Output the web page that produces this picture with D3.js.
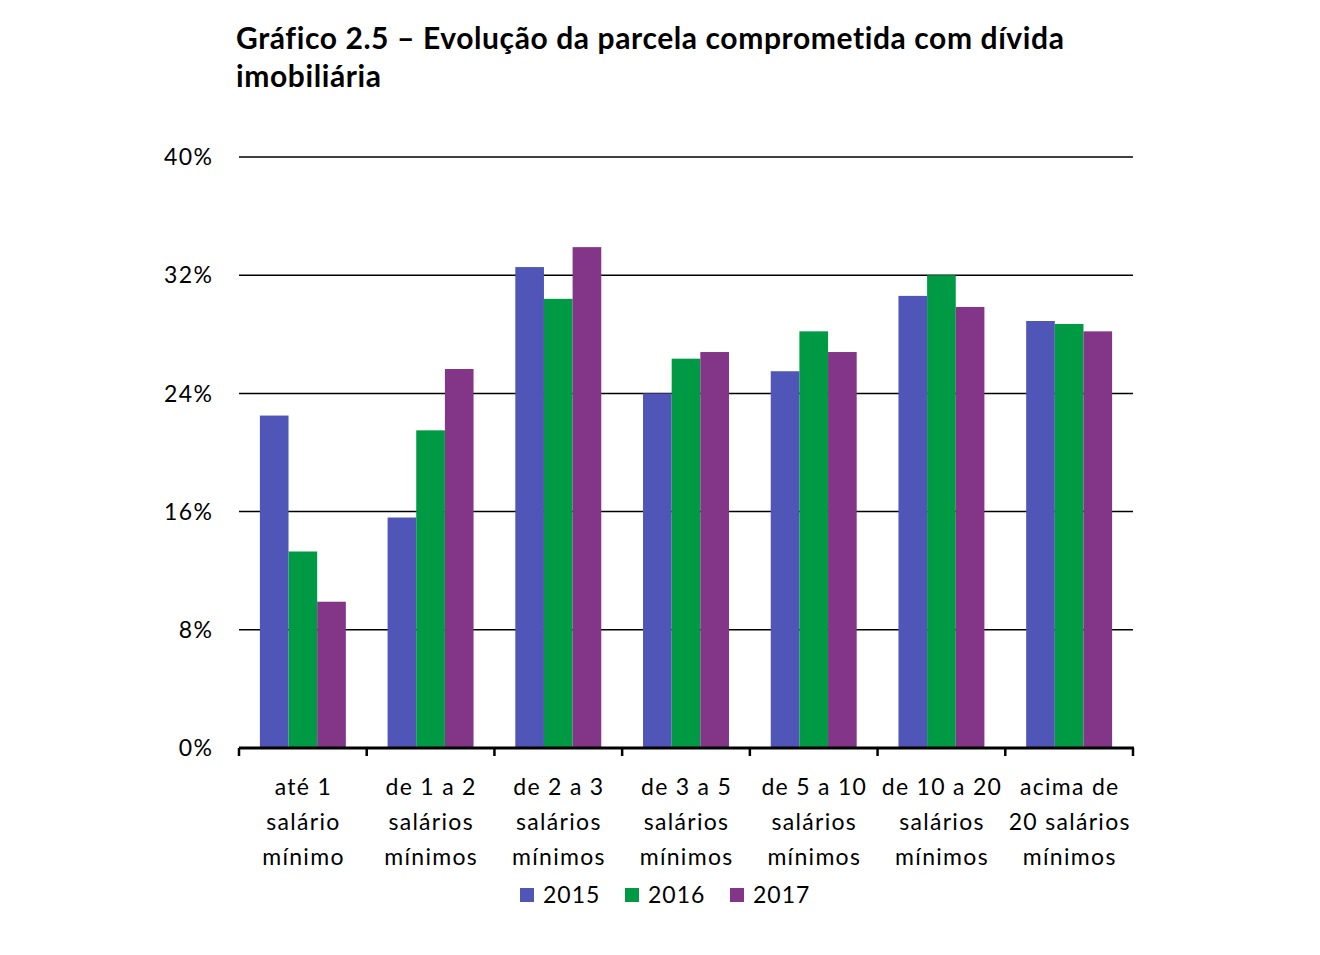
<!DOCTYPE html>
<html><head><meta charset="utf-8">
<script src="https://cdn.jsdelivr.net/npm/d3@7"></script>
<style>body{margin:0;background:#fff}svg{display:block}</style>
</head><body>
<script>
const categories = [
  ["até 1","salário","mínimo"],
  ["de 1 a 2","salários","mínimos"],
  ["de 2 a 3","salários","mínimos"],
  ["de 3 a 5","salários","mínimos"],
  ["de 5 a 10","salários","mínimos"],
  ["de 10 a 20","salários","mínimos"],
  ["acima de","20 salários","mínimos"]
];
const seriesNames = ["2015","2016","2017"];
const v2015 = [22.5, 15.6, 32.55, 24.0, 25.5, 30.6, 28.9];
const v2016 = [13.3, 21.5, 30.4, 26.35, 28.2, 32.0, 28.7];
const v2017 = [9.9, 25.65, 33.9, 26.8, 26.8, 29.85, 28.2];
const yTicks = [0, 8, 16, 24, 32, 40];
const colors = ["#4F56B8", "#009944", "#833588"];
const title = ["Gráfico 2.5 – Evolução da parcela comprometida com dívida", "imobiliária"];

const W = 1320, H = 955;
const svg = d3.select("body").append("svg").attr("width", W).attr("height", H);
const font = "Lato, 'Open Sans', sans-serif";

const x0 = d3.scaleBand().domain(d3.range(categories.length)).range([239, 1133]).paddingInner(0).paddingOuter(0);
const inner = 0.673;
const x1 = d3.scaleBand().domain(seriesNames).range([0, x0.bandwidth()*inner]);
const y = d3.scaleLinear().domain([0, 40]).range([748, 157]);

// title
svg.append("g").selectAll("text").data(title).join("text")
  .attr("x", 236).attr("y", (d,i)=> 49 + i*38)
  .attr("font-family", font).attr("font-weight", "bold").attr("font-size", 30).attr("fill", "#000")
  .attr("letter-spacing", "0.6px")
  .text(d=>d);

// gridlines
svg.append("g").selectAll("line").data(yTicks.filter(t=>t>0)).join("line")
  .attr("x1", 239).attr("x2", 1133).attr("y1", d=>y(d)).attr("y2", d=>y(d))
  .attr("stroke", "#000").attr("stroke-width", 1.5);

// y labels
svg.append("g").selectAll("text").data(yTicks).join("text")
  .attr("x", 213.5).attr("y", d=>y(d)).attr("dy", "0.36em").attr("text-anchor", "end")
  .attr("font-family", font).attr("font-size", 23).attr("fill", "#000")
  .attr("letter-spacing", "1.5px")
  .text(d=>d+"%");

// bars
const data = categories.map((c,i)=>({i, vals:[v2015[i], v2016[i], v2017[i]]}));
const groups = svg.append("g").selectAll("g").data(data).join("g")
  .attr("transform", d=>`translate(${x0(d.i) + x0.bandwidth()*(1-inner)/2},0)`);
groups.selectAll("rect").data(d=>d.vals.map((v,k)=>({k,v}))).join("rect")
  .attr("x", d=>x1(seriesNames[d.k])).attr("width", x1.bandwidth())
  .attr("y", d=>y(d.v)).attr("height", d=>y(0)-y(d.v))
  .attr("fill", d=>colors[d.k]);

// x axis
const xAxis = svg.append("g");
xAxis.append("line").attr("x1", 239).attr("x2", 1134).attr("y1", 748).attr("y2", 748)
  .attr("stroke", "#000").attr("stroke-width", 3);
const tickPos = d3.range(categories.length+1).map(i => i < categories.length ? x0(i) : x0(i-1)+x0.bandwidth());
xAxis.selectAll("line.t").data(tickPos).join("line").attr("class","t")
  .attr("x1", d=>d).attr("x2", d=>d).attr("y1", 748).attr("y2", 756)
  .attr("stroke", "#000").attr("stroke-width", 2.5);

// category labels
const cl = svg.append("g").selectAll("text").data(categories).join("text")
  .attr("text-anchor", "middle").attr("font-family", font).attr("font-size", 23).attr("fill", "#000")
  .attr("letter-spacing", "1.3px");
cl.selectAll("tspan").data((d,i)=>d.map(s=>({s,i}))).join("tspan")
  .attr("x", d=>x0(d.i)+x0.bandwidth()/2 + 0.6).attr("y", (d,j)=>795 + j*35).text(d=>d.s);

// legend
const legX = [520, 625, 730];
const leg = svg.append("g").selectAll("g").data(seriesNames).join("g")
  .attr("transform", (d,i)=>`translate(${legX[i]},0)`);
leg.append("rect").attr("x", 0).attr("y", 888).attr("width", 14).attr("height", 14).attr("fill", (d,i)=>colors[i]);
leg.append("text").attr("x", 23).attr("y", 903).attr("font-family", font).attr("font-size", 23).attr("fill", "#000")
  .attr("letter-spacing", "1px").text(d=>d);
</script>
</body></html>
